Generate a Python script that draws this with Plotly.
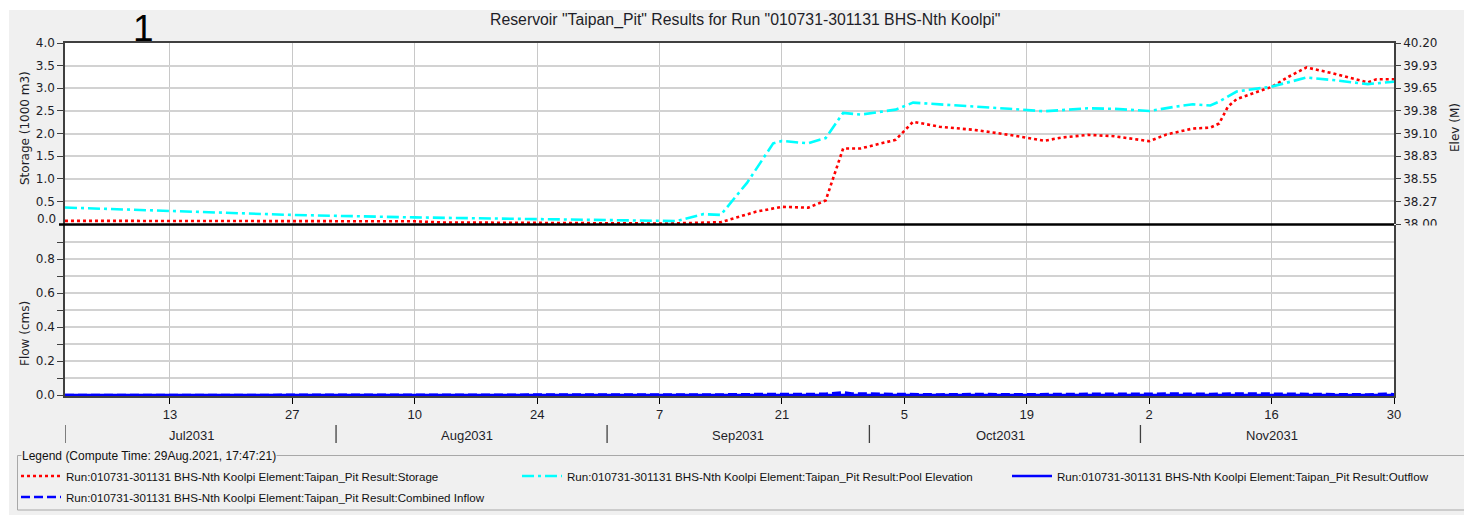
import plotly.graph_objects as go

W, H = 1464, 515


def px(x):
    return x / W


def py(y):
    return 1 - y / H


# ---- data -------------------------------------------------------------
storage_dates = [
    "2031-07-01", "2031-07-15", "2031-07-29", "2031-08-10", "2031-08-13",
    "2031-08-24", "2031-09-04", "2031-09-08", "2031-09-14", "2031-09-18",
    "2031-09-21", "2031-09-24", "2031-09-26", "2031-09-28", "2031-09-30",
    "2031-10-04", "2031-10-06", "2031-10-09", "2031-10-13", "2031-10-17",
    "2031-10-21", "2031-10-23", "2031-10-26", "2031-10-29", "2031-11-02",
    "2031-11-04", "2031-11-07", "2031-11-09", "2031-11-10", "2031-11-11",
    "2031-11-12", "2031-11-13", "2031-11-16", "2031-11-18", "2031-11-20",
    "2031-11-23", "2031-11-27", "2031-11-28", "2031-11-30",
]
storage_vals = [
    0.07, 0.07, 0.065, 0.06, 0.035,
    0.03, 0.015, 0.01, 0.04, 0.27,
    0.38, 0.36, 0.52, 1.67, 1.67,
    1.86, 2.26, 2.15, 2.08, 1.97,
    1.84, 1.91, 1.97, 1.94, 1.83,
    1.98, 2.11, 2.13, 2.22, 2.59,
    2.76, 2.83, 3.03, 3.26, 3.46,
    3.33, 3.13, 3.20, 3.20,
]

elev_dates = [
    "2031-07-01", "2031-07-13", "2031-07-27", "2031-08-10", "2031-08-24",
    "2031-09-05", "2031-09-09", "2031-09-12", "2031-09-14", "2031-09-17",
    "2031-09-20", "2031-09-21", "2031-09-24", "2031-09-26", "2031-09-28",
    "2031-09-30", "2031-10-04", "2031-10-06", "2031-10-09", "2031-10-13",
    "2031-10-17", "2031-10-21", "2031-10-26", "2031-10-29", "2031-11-02",
    "2031-11-05", "2031-11-07", "2031-11-09", "2031-11-10", "2031-11-12",
    "2031-11-16", "2031-11-20", "2031-11-23", "2031-11-27", "2031-11-30",
]
elev_vals = [
    38.20, 38.16, 38.11, 38.08, 38.06,
    38.036, 38.036, 38.12, 38.11, 38.50,
    38.98, 39.01, 38.98, 39.045, 39.35,
    39.33, 39.39, 39.475, 39.455, 39.434,
    39.40, 39.37, 39.406, 39.40, 39.373,
    39.426, 39.455, 39.44, 39.487, 39.61,
    39.67, 39.78, 39.75, 39.70, 39.73,
]

outflow_dates = ["2031-07-01", "2031-11-30"]
outflow_vals = [0.0, 0.0]

inflow_dates = [
    "2031-07-01", "2031-09-03", "2031-09-05", "2031-09-10", "2031-09-14",
    "2031-09-18", "2031-09-21", "2031-09-24", "2031-09-26", "2031-09-28",
    "2031-09-29", "2031-10-02", "2031-10-05", "2031-10-09", "2031-10-13",
    "2031-10-17", "2031-10-20", "2031-10-24", "2031-10-28", "2031-11-01",
    "2031-11-05", "2031-11-09", "2031-11-13", "2031-11-16", "2031-11-20",
    "2031-11-24", "2031-11-27", "2031-11-29", "2031-11-30",
]
inflow_vals = [
    0.0, 0.0, 0.002, 0.003, 0.004,
    0.006, 0.005, 0.006, 0.008, 0.016,
    0.010, 0.008, 0.009, 0.004, 0.006,
    0.003, 0.005, 0.007, 0.006, 0.008,
    0.009, 0.007, 0.010, 0.008, 0.009,
    0.006, 0.004, 0.008, 0.005,
]

day_ticks = [
    "2031-07-13", "2031-07-27", "2031-08-10", "2031-08-24", "2031-09-07",
    "2031-09-21", "2031-10-05", "2031-10-19", "2031-11-02", "2031-11-16",
    "2031-11-30",
]
day_labels = ["13", "27", "10", "24", "7", "21", "5", "19", "2", "16", "30"]

month_starts = ["2031-07-01", "2031-08-01", "2031-09-01", "2031-10-01", "2031-11-01"]
month_mids = ["2031-07-15 12:00", "2031-08-16", "2031-09-16", "2031-10-16", "2031-11-16"]
month_labels = ["Jul2031", "Aug2031", "Sep2031", "Oct2031", "Nov2031"]

storage_ticks = [0.5, 1.0, 1.5, 2.0, 2.5, 3.0, 3.5, 4.0]
flow_ticks = [0.0, 0.2, 0.4, 0.6, 0.8]
elev_ticks = [38.0 + 0.275 * k for k in range(9)]
elev_labels = ["38.00", "38.27", "38.55", "38.83", "39.10", "39.38", "39.65", "39.93", "40.20"]

run = "Run:010731-301131 BHS-Nth Koolpi Element:Taipan_Pit Result:"
TICKFONT = dict(family="DejaVu Sans", size=12, color="#1e1e28")
LBLFONT = dict(family="Liberation Sans", size=13, color="#1e1e28")
LEGFONT = dict(family="Liberation Sans", size=11.6, color="#111111")
GRID = "#d2d2d2"
AXIS = "#404040"

fig = go.Figure()

fig.add_trace(go.Scatter(
    x=storage_dates, y=storage_vals, xaxis="x2", yaxis="y2", mode="lines",
    name=run + "Storage", legend="legend", showlegend=True,
    line=dict(color="#ff0000", width=2.6, dash="3px,3px"),
))
fig.add_trace(go.Scatter(
    x=elev_dates, y=elev_vals, xaxis="x2", yaxis="y3", mode="lines",
    name=run + "Pool Elevation", legend="legend2", showlegend=True,
    line=dict(color="#00ffff", width=2.6, dash="12px,4px,3px,4px"),
))
fig.add_trace(go.Scatter(
    x=outflow_dates, y=outflow_vals, xaxis="x", yaxis="y", mode="lines",
    name=run + "Outflow", legend="legend3", showlegend=True,
    line=dict(color="#0000ff", width=2.6),
))
fig.add_trace(go.Scatter(
    x=inflow_dates, y=inflow_vals, xaxis="x", yaxis="y", mode="lines",
    name=run + "Combined Inflow", legend="legend4", showlegend=True,
    line=dict(color="#0000ff", width=2.6, dash="9px,4px"),
))

xdom = [px(65), px(1394)]
xrange_ = ["2031-07-01", "2031-11-30"]


def legend_at(x, y):
    return dict(
        x=px(x), y=py(y), xanchor="left", yanchor="middle", visible=True,
        bgcolor="rgba(0,0,0,0)", borderwidth=0, font=LEGFONT,
        itemwidth=40, orientation="h",
    )


shapes = [
    # white strips outside the grey panel
    dict(type="rect", xref="paper", yref="paper", x0=0, x1=1, y0=py(10), y1=1,
         fillcolor="white", line=dict(width=0), layer="below"),
    dict(type="rect", xref="paper", yref="paper", x0=0, x1=px(9), y0=0, y1=1,
         fillcolor="white", line=dict(width=0), layer="below"),
    # heavy divider between storage and flow panels
    dict(type="line", xref="paper", yref="paper", x0=px(59), x1=px(1394),
         y0=py(224.5), y1=py(224.5), line=dict(color="black", width=2.5), layer="above"),
    # partly hide the lowest elevation label under the divider
    dict(type="rect", xref="paper", yref="paper", x0=px(1397), x1=px(1446),
         y0=py(238), y1=py(225.5), fillcolor="#f0f0f0", line=dict(width=0), layer="above"),
    # legend group box (runs off the right edge)
    dict(type="rect", xref="paper", yref="paper", x0=px(17.5), x1=px(1470),
         y0=py(510), y1=py(455.5), line=dict(color="#a8a8a8", width=1),
         fillcolor="rgba(0,0,0,0)", layer="below"),
]
for d in month_starts:
    shapes.append(dict(type="line", xref="x", yref="paper", x0=d, x1=d,
                       y0=py(443), y1=py(425), line=dict(color=AXIS, width=1.3)))

annotations = [
    dict(text='Reservoir "Taipan_Pit" Results for Run "010731-301131 BHS-Nth Koolpi"',
         x=px(745), y=py(20), xref="paper", yref="paper", showarrow=False,
         font=dict(family="Liberation Sans", size=15.8, color="#1e1e28"),
         xanchor="center", yanchor="middle"),
    dict(text="1", x=px(143), y=py(28), xref="paper", yref="paper", showarrow=False,
         font=dict(family="Liberation Sans", size=37, color="black"),
         xanchor="center", yanchor="middle"),
    dict(text="Storage (1000 m3)", x=px(25), y=py(128), xref="paper", yref="paper",
         showarrow=False, textangle=-90, font=TICKFONT, xanchor="center", yanchor="middle"),
    dict(text="Flow (cms)", x=px(25), y=py(334), xref="paper", yref="paper",
         showarrow=False, textangle=-90, font=TICKFONT, xanchor="center", yanchor="middle"),
    dict(text="Elev (M)", x=px(1455), y=py(128), xref="paper", yref="paper",
         showarrow=False, textangle=-90, font=TICKFONT, xanchor="center", yanchor="middle"),
    dict(text="0.0", x=px(58), y=py(219), xref="paper", yref="paper",
         showarrow=False, font=TICKFONT, xanchor="right", yanchor="middle"),
    dict(text="Legend (Compute Time: 29Aug.2021, 17:47:21)", x=px(21), y=py(455.5),
         xref="paper", yref="paper", showarrow=False,
         font=dict(family="Liberation Sans", size=12, color="#111111"),
         xanchor="left", yanchor="middle", bgcolor="#f0f0f0", borderpad=0),
]
for d, lab in zip(month_mids, month_labels):
    annotations.append(dict(text=lab, x=d, y=py(435), xref="x", yref="paper",
                            showarrow=False, font=LBLFONT,
                            xanchor="center", yanchor="middle"))

fig.update_layout(
    width=W, height=H,
    autosize=False,
    margin=dict(l=0, r=0, t=0, b=0, pad=0, autoexpand=False),
    paper_bgcolor="#f0f0f0",
    plot_bgcolor="white",
    hovermode=False,
    showlegend=True,
    xaxis=dict(
        domain=xdom, anchor="y", type="date", range=xrange_,
        tickmode="array", tickvals=day_ticks, ticktext=day_labels,
        ticks="outside", ticklen=6, tickcolor="black", tickwidth=1.3,
        tickfont=LBLFONT, showgrid=True, gridcolor="#c8c8c8", gridwidth=1,
        showline=True, linecolor=AXIS, linewidth=1.5, layer="below traces",
        zeroline=False,
    ),
    xaxis2=dict(
        domain=xdom, anchor="y2", type="date", matches="x", range=xrange_,
        tickmode="array", tickvals=day_ticks, showticklabels=False, ticks="",
        showgrid=True, gridcolor="#c8c8c8", gridwidth=1,
        showline=True, side="top", linecolor=AXIS, linewidth=1.5, zeroline=False,
    ),
    yaxis=dict(
        domain=[py(396), py(225)], anchor="x", range=[-0.005, 1.0],
        tickmode="array", tickvals=flow_ticks, tickformat=".1f",
        ticks="outside", ticklen=6, tickcolor=AXIS, tickwidth=1.3, tickfont=TICKFONT,
        minor=dict(tickmode="array", tickvals=[0.1, 0.3, 0.5, 0.7, 0.9], ticks="outside",
                   ticklen=6, tickcolor=AXIS, tickwidth=1.3,
                   showgrid=True, gridcolor=GRID, gridwidth=1.5),
        showgrid=True, gridcolor=GRID, gridwidth=1.5,
        showline=True, mirror=True, linecolor=AXIS, linewidth=1.5, zeroline=False,
    ),
    yaxis2=dict(
        domain=[py(224), py(43)], anchor="x2", range=[0, 4.0],
        tickmode="array", tickvals=storage_ticks, tickformat=".1f",
        ticks="outside", ticklen=6, tickcolor=AXIS, tickwidth=1.3, tickfont=TICKFONT,
        showgrid=True, gridcolor=GRID, gridwidth=1.5,
        showline=True, linecolor=AXIS, linewidth=1.5, zeroline=False,
    ),
    yaxis3=dict(
        overlaying="y2", anchor="x2", side="right", range=[38.0, 40.2],
        tickmode="array", tickvals=elev_ticks, ticktext=elev_labels,
        ticks="outside", ticklen=5, tickcolor=AXIS, tickwidth=1.3, tickfont=TICKFONT,
        showgrid=False, showline=True, linecolor=AXIS, linewidth=1.5, zeroline=False,
    ),
    legend=legend_at(16, 476),
    legend2=legend_at(517, 476),
    legend3=legend_at(1007, 476),
    legend4=legend_at(16, 497),
    shapes=shapes,
    annotations=annotations,
)

fig.write_html("out.html")
